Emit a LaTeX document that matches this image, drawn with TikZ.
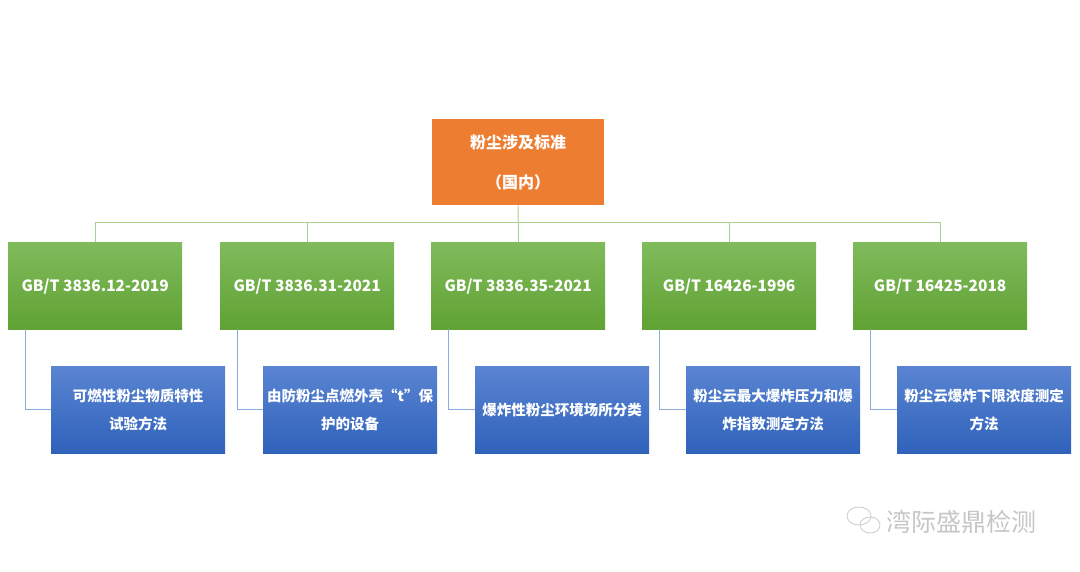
\documentclass[tikz,border=0pt]{standalone}
\usepackage{fontspec}
\setmainfont{Noto Sans CJK SC}
\begin{document}
\begin{tikzpicture}[x=1pt,y=-1pt,
 gbox/.style={draw=none,top color=gtop,bottom color=gbot,minimum width=174pt,minimum height=87pt,anchor=north west,inner sep=0pt},
 bbox/.style={draw=none,top color=btop,bottom color=bbot,minimum width=174pt,minimum height=87pt,text=white,font=\bfseries\fontsize{14.5}{28}\selectfont,anchor=north west,align=center,text width=172pt,inner sep=0pt},
 gl/.style={draw=lg,line width=1pt},
 bl/.style={draw=lb,line width=1pt}]
\definecolor{gtop}{HTML}{80BB5C}\definecolor{gbot}{HTML}{60A233}
\definecolor{btop}{HTML}{5A84D2}\definecolor{bbot}{HTML}{2F62BA}
\definecolor{org}{HTML}{ED7D31}\definecolor{lg}{HTML}{A9D18E}\definecolor{lb}{HTML}{8FAADC}
\useasboundingbox (0,0) rectangle (1080,571);
\node[fill=org,minimum width=172pt,minimum height=86pt,anchor=north west,text=white,align=center,font=\bfseries\fontsize{16}{40}\selectfont,inner sep=0pt] (r) at (432,119) {粉尘涉及标准\\（国内）};
\foreach \i/\x/\t in {1/8/{GB/T 3836.12-2019},2/220/{GB/T 3836.31-2021},3/431/{GB/T 3836.35-2021},4/642/{GB/T 16426-1996},5/853/{GB/T 16425-2018}}{
 \node[gbox] (g\i) at (\x,242) {};
 \node[text=white,font=\bfseries\fontsize{15.5}{18}\selectfont] (l\i) at ([yshift=-1pt]g\i.center) {\t};
 \coordinate (t\i) at (g\i.north);
 \coordinate (s\i) at ([xshift=17pt]g\i.south west);
}
\foreach \i/\x/\t in {1/51/{可燃性粉尘物质特性\\试验方法},2/263/{由防粉尘点燃外壳“t”保\\护的设备},3/475/{爆炸性粉尘环境场所分类},4/686/{粉尘云最大爆炸压力和爆\\炸指数测定方法},5/897/{粉尘云爆炸下限浓度测定\\方法}}{
 \node[bbox] (b\i) at (\x,366) {\t};
 \draw[bl] (s\i) |- (b\i.west);
}
\coordinate (h) at (518,222);
\draw[gl] (r.south) -- (h);
\draw[gl] (t1) -- (t1|-h) -- (t5|-h) -- (t5);
\foreach \i in {2,3,4}{\draw[gl] (t\i) -- (t\i|-h);}
\node[text=gray!45,font=\fontsize{25}{27}\selectfont,anchor=west,inner sep=0pt] (w) at (886,522) {湾际盛鼎检测};
\draw[gray!40,line width=0.8pt] (859,516) ellipse (12 and 9) (870,525) ellipse (10 and 8);
\end{tikzpicture}
\end{document}
